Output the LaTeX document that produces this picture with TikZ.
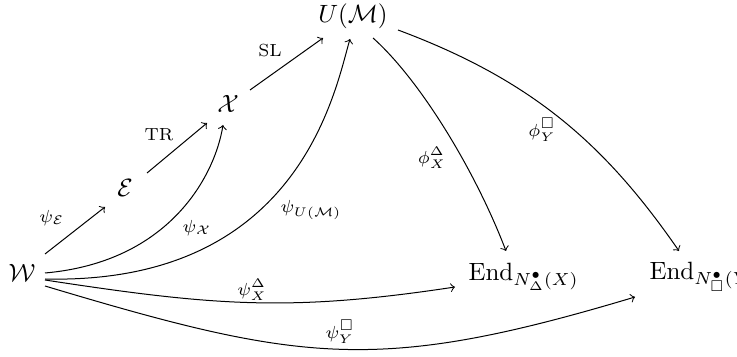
\documentclass[tikz,border=0pt]{standalone}
\usepackage{amsmath,amssymb}
\usetikzlibrary{calc}
\begin{document}
\begin{tikzpicture}[x=0.4pt,y=-0.4pt,
  obj/.style={inner sep=0pt},
  lbl/.style={inner sep=0pt,font=\scriptsize},
  arr/.style={->}]
\useasboundingbox (0,0) rectangle (737,357);
% objects
\node[obj] (W) at (22,273) {$\mathcal{W}$};
\node[obj] (E) at (125,188) {$\mathcal{E}$};
\node[obj] (X) at (228,104) {$\mathcal{X}$};
\node[obj] (U) at (353,16) {$U(\mathcal{M})$};
\node[obj,anchor=west] (D) at (468,277) {$\mathrm{End}_{N^{\bullet}_{\Delta}(X)}$};
\node[obj,anchor=west] (S) at (649,277) {$\mathrm{End}_{N^{\bullet}_{\square}(Y)}$};
% straight chain
\draw[arr] ($(W)+(23,-19)$) -- ($(E)+(-20,19)$);
\draw[arr] ($(E)+(22,-15)$) -- ($(X)+(-21,19)$);
\draw[arr] ($(X)+(22,-14)$) -- ($(U)+(-30,22)$);
% curved from W
\draw[arr] ($(W)+(23,0)$) .. controls (170,262) and (215,175) .. ($(X)+(-5,21)$);
\draw[arr] ($(W)+(23,6)$) .. controls (300,285) and (335,90) .. ($(U)+(-3,23)$);
\draw[arr] ($(W)+(23,7)$) .. controls (215,306) and (290,312) .. ($(D.west)+(-13,10)$);
\draw[arr] ($(W)+(23,13)$) .. controls (302,363) and (378,374) .. ($(S.west)+(-14,20)$);
% curved from U
\draw[arr] ($(U)+(20,22)$) .. controls (420,80) and (475,170) .. ($(D.west)+(38,-26)$);
\draw[arr] ($(U)+(45,14)$) .. controls (532,80) and (605,144) .. ($(S.west)+(30,-26)$);
% labels
\node[lbl] (lE) at (52,218) {$\psi_{\mathcal{E}}$};
\node[lbl] (lTR) at (159,135) {$\mathrm{TR}$};
\node[lbl] (lSL) at (270,51) {$\mathrm{SL}$};
\node[lbl] (lX) at (197,228) {$\psi_{\mathcal{X}}$};
\node[lbl] (lU) at (311,210) {$\psi_{U(\mathcal{M})}$};
\node[lbl] (lWD) at (252,290) {$\psi^{\Delta}_{X}$};
\node[lbl] (lWS) at (340,332) {$\psi^{\square}_{Y}$};
\node[lbl] (lUD) at (432,158) {$\phi^{\Delta}_{X}$};
\node[lbl] (lUS) at (542,130) {$\phi^{\square}_{Y}$};
\end{tikzpicture}
\end{document}
